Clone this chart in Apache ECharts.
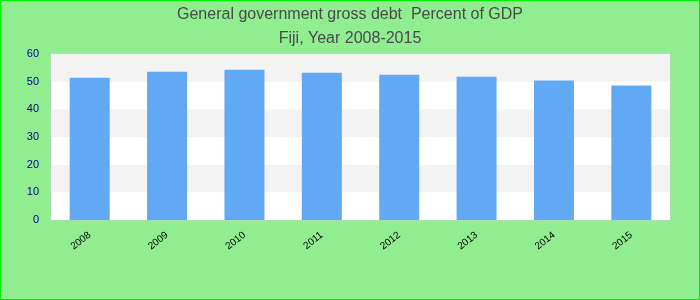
<!DOCTYPE html>
<html><head><meta charset="utf-8">
<script src="https://cdn.jsdelivr.net/npm/echarts@6/dist/echarts.min.js"></script>
<style>html,body{margin:0;padding:0;}#c{width:700px;height:300px;}</style>
</head><body><div id="c"></div>
<script>
var categories = ['2008','2009','2010','2011','2012','2013','2014','2015'];
var values = [51.4, 53.6, 54.3, 53.2, 52.5, 51.8, 50.4, 48.6];
var yTicks = [0, 10, 20, 30, 40, 50, 60];
var titleLines = ['General government gross debt  Percent of GDP', 'Fiji, Year 2008-2015'];

var chart = echarts.init(document.getElementById('c'), null, {renderer: 'canvas'});
chart.setOption({
  backgroundColor: '#90ee90',
  animation: false,
  title: {
    text: titleLines.join('\n'),
    left: 'center', top: -2,
    textStyle: {fontFamily: 'Liberation Sans', fontSize: 16, fontWeight: 'normal', color: '#4a4a4a', lineHeight: 24}
  },
  grid: {left: 51, right: 30, top: 54, bottom: 80, show: true, backgroundColor: '#fff', borderColor: '#ccc', borderWidth: 1},
  xAxis: {
    type: 'category', data: categories,
    axisLine: {show: false}, axisTick: {show: false},
    axisLabel: {rotate: 38, color: '#000', fontFamily: 'Liberation Sans', fontSize: 10, margin: 14}
  },
  yAxis: {
    type: 'value', min: yTicks[0], max: yTicks[yTicks.length-1], interval: 10,
    axisLine: {show: false}, axisTick: {show: false},
    splitLine: {show: false},
    splitArea: {show: true, areaStyle: {color: ['#ffffff', '#f3f3f3']}},
    axisLabel: {color: '#00008b', fontFamily: 'Liberation Sans', fontSize: 11, margin: 12}
  },
  series: [{
    type: 'bar', data: values, barWidth: 40,
    itemStyle: {color: '#62a9f5'}
  }]
});
</script>
<div style="position:absolute;left:0;top:0;width:698px;height:298px;border:1px solid #00ee00;pointer-events:none"></div>
</body></html>
